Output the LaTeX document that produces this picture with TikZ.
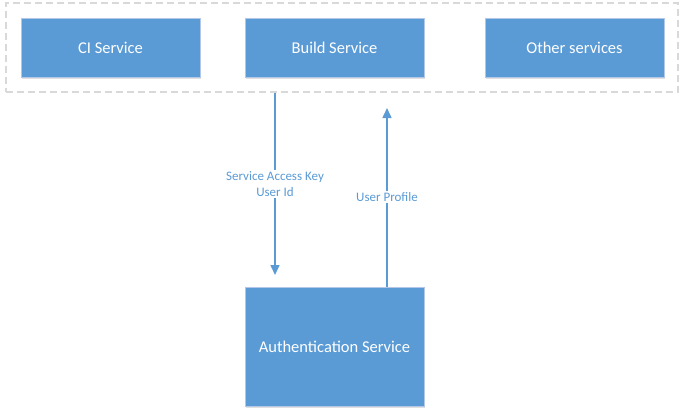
\documentclass[tikz,border=0pt]{standalone}
\usepackage{fontspec}
\setmainfont{Carlito}
\usetikzlibrary{arrows.meta,shadows}
\definecolor{boxblue}{HTML}{5B9BD5}
\definecolor{boxedge}{HTML}{B4C7E7}
\definecolor{dashgray}{HTML}{D9D9D9}
\begin{document}
\begin{tikzpicture}[x=1bp,y=1bp,
  svc/.style={rectangle, fill=boxblue, draw=boxedge, line width=0.6bp,
    text=white, font=\fontsize{16.5bp}{19bp}\selectfont, inner sep=0pt,
    drop shadow={shadow xshift=1bp, shadow yshift=-2bp, opacity=0.12, fill=black}},
  group/.style={rectangle, draw=dashgray, line width=1.3bp, dash pattern=on 7bp off 4bp, inner sep=0pt},
  flow/.style={draw=boxblue, line width=1.5bp, -{Triangle[length=10bp,width=9bp]}},
  lbl/.style={fill=white, text=boxblue, font=\fontsize{13bp}{15.5bp}\selectfont, align=center, inner sep=1.5bp}
]
\useasboundingbox (0,0) rectangle (686,416);
\node[group, minimum width=672bp, minimum height=89bp] (grp) at (342,368.5) {};
\node[svc, minimum width=179bp, minimum height=59bp] (ci) at (110.5,368.5) {CI Service};
\node[svc, minimum width=179bp, minimum height=59bp] (build) at (334.5,368.5) {Build Service};
\node[svc, minimum width=179bp, minimum height=59bp] (other) at (574.5,368.5) {Other services};
\node[svc, minimum width=179bp, minimum height=119bp] (auth) at (334.5,69.5) {Authentication Service};
\coordinate (downend) at (275,141);
\coordinate (upend) at (387,308);
\draw[flow] (grp.south -| downend) -- node[lbl, pos=0.5] {Service Access Key\\User Id} (downend);
\draw[flow] (auth.north -| upend) -- node[lbl, pos=0.5] {User Profile} (upend);
\end{tikzpicture}
\end{document}
